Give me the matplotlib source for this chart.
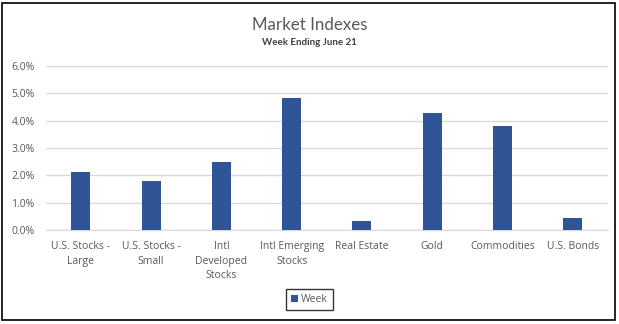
import matplotlib.pyplot as plt
from matplotlib.patches import Rectangle
from matplotlib.ticker import FuncFormatter

categories = ["U.S. Stocks -\nLarge", "U.S. Stocks -\nSmall", "Intl\nDeveloped\nStocks",
              "Intl Emerging\nStocks", "Real Estate", "Gold", "Commodities", "U.S. Bonds"]
week = [2.12, 1.79, 2.49, 4.83, 0.34, 4.29, 3.82, 0.44]
yticks = [0, 1, 2, 3, 4, 5, 6]

plt.rcParams['font.family'] = ['Open Sans', 'DejaVu Sans']
txt = '#595959'

fig = plt.figure(figsize=(6.19, 3.24), dpi=100)
ax = fig.add_axes([0.074, 0.290, 0.908, 0.506])

x_pos = list(range(len(categories)))
ax.bar(x_pos, week, width=0.27, color='#2f5597', label='Week', zorder=3)
ax.set_xlim(-0.5, len(categories) - 0.5)
ax.set_ylim(0, 6)
ax.set_yticks(yticks)
ax.yaxis.set_major_formatter(FuncFormatter(lambda v, p: f"{v:.1f}%"))
ax.grid(axis='y', color='#d9d9d9', linewidth=1, zorder=0)
ax.set_xticks(x_pos)
ax.set_xticklabels(categories, fontsize=7.5, color=txt, linespacing=1.45)
ax.tick_params(axis='both', length=0, labelsize=7.5, labelcolor=txt)
ax.tick_params(axis='x', pad=8)
ax.tick_params(axis='y', pad=8)
for s in ax.spines.values():
    s.set_visible(False)
ax.spines['bottom'].set_visible(True)
ax.spines['bottom'].set_color('#d9d9d9')

fig.text(0.5, 0.922, "Market Indexes", ha='center', va='center', fontsize=12.2,
         color=txt, family=['Lato', 'DejaVu Sans'])
fig.text(0.5, 0.868, "Week Ending June 21", ha='center', va='center', fontsize=7,
         color='#404040', fontweight='bold', family=['Lato', 'DejaVu Sans'])

leg = fig.legend(loc='center', bbox_to_anchor=(0.5, 0.075), fontsize=7.5, frameon=True,
                 fancybox=False, edgecolor='black', handlelength=0.7, handleheight=0.7,
                 handletextpad=0.3, borderpad=0.5)
leg.get_frame().set_linewidth(1)
for t in leg.get_texts():
    t.set_color(txt)

fig.patches.append(Rectangle((0.004, 0.012), 0.99, 0.98, transform=fig.transFigure,
                             fill=False, edgecolor='black', linewidth=1.2))

fig.savefig('out.png', dpi=100)
